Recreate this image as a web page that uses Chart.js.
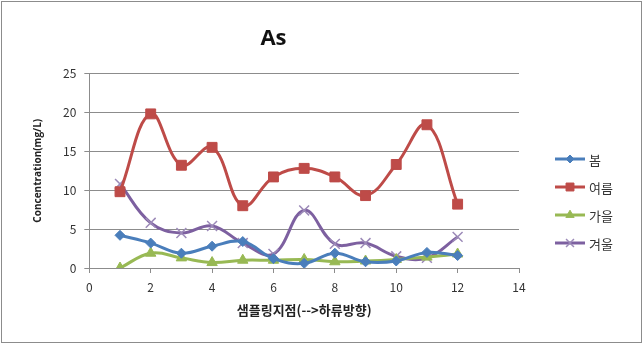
<!DOCTYPE html>
<html>
<head>
<meta charset="utf-8">
<script src="https://cdn.jsdelivr.net/npm/chart.js@4"></script>
<style>
  html, body { margin: 0; padding: 0; background: #fff; }
  #box { position: absolute; left: 1px; top: 1px; width: 639px; height: 340px; border: 1px solid #8c8c8c; }
  canvas { display: block; }
</style>
</head>
<body>
<div id="box"><canvas id="c" width="639" height="340"></canvas></div>
<script>
// DATA
const sites = [1, 2, 3, 4, 5, 6, 7, 8, 9, 10, 11, 12];
const spring = [4.2, 3.2, 1.9, 2.8, 3.4, 1.2, 0.6, 1.9, 0.8, 0.9, 2.0, 1.6];
const summer = [9.8, 19.8, 13.2, 15.5, 8.0, 11.7, 12.8, 11.7, 9.3, 13.3, 18.4, 8.2];
const autumn = [0.0, 1.9, 1.3, 0.7, 1.0, 1.0, 1.1, 0.8, 0.9, 1.1, 1.4, 1.8];
const winter = [10.8, 5.8, 4.5, 5.4, 3.2, 1.8, 7.4, 3.1, 3.2, 1.5, 1.3, 4.0];
const seasonNames = ["봄", "여름", "가을", "겨울"];
const xTicks = [0, 2, 4, 6, 8, 10, 12, 14];
const yTicks = [0, 5, 10, 15, 20, 25];

const KR = "'Noto Sans CJK KR', 'Noto Sans', sans-serif";
const pts = (arr) => sites.map((s, i) => ({ x: s, y: arr[i] }));

const styles = [
  { color: "#4a7ebb", point: "rectRot", r: 5, pcolor: "#4a7ebb" },
  { color: "#be4b48", point: "rect", r: 7, pcolor: "#be4b48" },
  { color: "#98b954", point: "triangle", r: 6, pcolor: "#98b954" },
  { color: "#7d60a0", point: "crossRot", r: 7, pcolor: "#9c8ab8" },
];

const datasets = [spring, summer, autumn, winter].map((arr, i) => ({
  label: seasonNames[i],
  data: pts(arr),
  borderColor: styles[i].color,
  backgroundColor: styles[i].pcolor,
  pointBorderColor: styles[i].pcolor,
  pointStyle: styles[i].point,
  pointRadius: styles[i].r,
  pointBorderWidth: i === 3 ? 1.5 : 1,
  borderWidth: 3,
  tension: 0.4,
}));

// legend drawn like the spreadsheet one: line with marker in the middle
const sideLegend = {
  id: "sideLegend",
  afterDraw(chart) {
    const ctx = chart.ctx;
    const x0 = 553, y0 = 157, step = 28;
    chart.data.datasets.forEach((ds, i) => {
      const y = y0 + i * step;
      ctx.save();
      ctx.strokeStyle = ds.borderColor;
      ctx.lineWidth = 3;
      ctx.beginPath();
      ctx.moveTo(x0, y);
      ctx.lineTo(x0 + 30, y);
      ctx.stroke();
      ctx.fillStyle = ds.backgroundColor;
      ctx.strokeStyle = ds.pointBorderColor;
      ctx.lineWidth = ds.pointBorderWidth;
      Chart.helpers.drawPoint(ctx, {
        pointStyle: ds.pointStyle,
        radius: ds.pointRadius * 0.8,
        borderWidth: ds.pointBorderWidth,
        rotation: 0,
      }, x0 + 15, y);
      ctx.fillStyle = "#333";
      ctx.font = "13px " + KR;
      ctx.textBaseline = "middle";
      ctx.fillText(ds.label, x0 + 34, y + 1);
      ctx.restore();
    });
  },
};

new Chart(document.getElementById("c"), {
  type: "line",
  data: { datasets },
  plugins: [sideLegend],
  options: {
    responsive: false,
    animation: false,
    layout: { padding: { left: 26, right: 122, top: 10, bottom: 20 } },
    plugins: {
      legend: { display: false },
      tooltip: { enabled: false },
      title: {
        display: true,
        text: "As",
        color: "#111",
        font: { family: "'Open Sans', sans-serif", size: 22, weight: "bold" },
        padding: { top: 14, bottom: 21 },
      },
    },
    scales: {
      x: {
        type: "linear",
        min: 0,
        max: 14,
        afterBuildTicks: (axis) => { axis.ticks = xTicks.map((v) => ({ value: v })); },
        grid: { drawOnChartArea: false, drawTicks: true, tickLength: 5, color: "#8c8c8c" },
        border: { color: "#8c8c8c" },
        ticks: { color: "#333", font: { family: KR, size: 12 }, padding: 7 },
        title: {
          display: true,
          text: "샘플링지점(-->하류방향)",
          color: "#222",
          font: { family: KR, size: 13, weight: "bold" },
          padding: { top: 1 },
        },
      },
      y: {
        min: 0,
        max: 25,
        afterBuildTicks: (axis) => { axis.ticks = yTicks.map((v) => ({ value: v })); },
        grid: { color: "#8c8c8c", tickLength: 5 },
        border: { color: "#8c8c8c" },
        ticks: { color: "#333", font: { family: KR, size: 12 }, padding: 8 },
        title: {
          display: true,
          text: "Concentration(mg/L)",
          color: "#222",
          font: { family: "'Open Sans', sans-serif", size: 10, weight: "bold" },
          padding: { bottom: 11 },
        },
      },
    },
  },
});
</script>
</body>
</html>
